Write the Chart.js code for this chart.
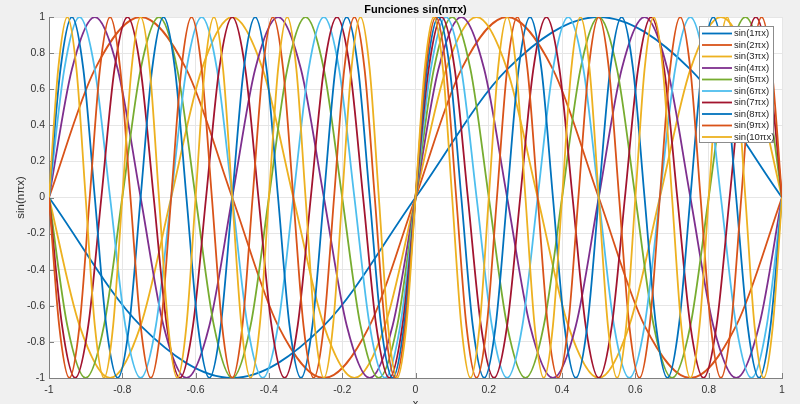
<!DOCTYPE html>
<html>
<head>
<meta charset="utf-8">
<title>Funciones sin(nπx)</title>
<script src="https://cdn.jsdelivr.net/npm/chart.js@4.4.1/dist/chart.umd.min.js"></script>
<style>
    html, body {
        margin: 0;
        padding: 0;
        background: #f0f0f0;
    }
</style>
</head>
<body>
<canvas id="sinChart" width="800" height="404"></canvas>
<script>
// each curve sampled every 1/8 of its period, from x = -1 to x = 1
const seriesLabels = ["sin(1πx)", "sin(2πx)", "sin(3πx)", "sin(4πx)", "sin(5πx)",
                      "sin(6πx)", "sin(7πx)", "sin(8πx)", "sin(9πx)", "sin(10πx)"];

const sin1 = [0, -0.71, -1, -0.71, 0, 0.71, 1, 0.71, 0];
const sin2 = [0, 0.71, 1, 0.71, 0, -0.71, -1, -0.71, 0, 0.71, 1, 0.71, 0, -0.71, -1, -0.71, 0];
const sin3 = [0, -0.71, -1, -0.71, 0, 0.71, 1, 0.71,
              0, -0.71, -1, -0.71, 0, 0.71, 1, 0.71,
              0, -0.71, -1, -0.71, 0, 0.71, 1, 0.71, 0];
const sin4 = [0, 0.71, 1, 0.71, 0, -0.71, -1, -0.71, 0, 0.71, 1, 0.71, 0, -0.71, -1, -0.71,
              0, 0.71, 1, 0.71, 0, -0.71, -1, -0.71, 0, 0.71, 1, 0.71, 0, -0.71, -1, -0.71, 0];
const sin5 = [0, -0.71, -1, -0.71, 0, 0.71, 1, 0.71, 0, -0.71, -1, -0.71, 0, 0.71, 1, 0.71,
              0, -0.71, -1, -0.71, 0, 0.71, 1, 0.71, 0, -0.71, -1, -0.71, 0, 0.71, 1, 0.71,
              0, -0.71, -1, -0.71, 0, 0.71, 1, 0.71, 0];
const sin6 = [0, 0.71, 1, 0.71, 0, -0.71, -1, -0.71, 0, 0.71, 1, 0.71, 0, -0.71, -1, -0.71,
              0, 0.71, 1, 0.71, 0, -0.71, -1, -0.71, 0, 0.71, 1, 0.71, 0, -0.71, -1, -0.71,
              0, 0.71, 1, 0.71, 0, -0.71, -1, -0.71, 0, 0.71, 1, 0.71, 0, -0.71, -1, -0.71, 0];
const sin7 = [0, -0.71, -1, -0.71, 0, 0.71, 1, 0.71, 0, -0.71, -1, -0.71, 0, 0.71, 1, 0.71,
              0, -0.71, -1, -0.71, 0, 0.71, 1, 0.71, 0, -0.71, -1, -0.71, 0, 0.71, 1, 0.71,
              0, -0.71, -1, -0.71, 0, 0.71, 1, 0.71, 0, -0.71, -1, -0.71, 0, 0.71, 1, 0.71,
              0, -0.71, -1, -0.71, 0, 0.71, 1, 0.71, 0];
const sin8 = [0, 0.71, 1, 0.71, 0, -0.71, -1, -0.71, 0, 0.71, 1, 0.71, 0, -0.71, -1, -0.71,
              0, 0.71, 1, 0.71, 0, -0.71, -1, -0.71, 0, 0.71, 1, 0.71, 0, -0.71, -1, -0.71,
              0, 0.71, 1, 0.71, 0, -0.71, -1, -0.71, 0, 0.71, 1, 0.71, 0, -0.71, -1, -0.71,
              0, 0.71, 1, 0.71, 0, -0.71, -1, -0.71, 0, 0.71, 1, 0.71, 0, -0.71, -1, -0.71, 0];
const sin9 = [0, -0.71, -1, -0.71, 0, 0.71, 1, 0.71, 0, -0.71, -1, -0.71, 0, 0.71, 1, 0.71,
              0, -0.71, -1, -0.71, 0, 0.71, 1, 0.71, 0, -0.71, -1, -0.71, 0, 0.71, 1, 0.71,
              0, -0.71, -1, -0.71, 0, 0.71, 1, 0.71, 0, -0.71, -1, -0.71, 0, 0.71, 1, 0.71,
              0, -0.71, -1, -0.71, 0, 0.71, 1, 0.71, 0, -0.71, -1, -0.71, 0, 0.71, 1, 0.71,
              0, -0.71, -1, -0.71, 0, 0.71, 1, 0.71, 0];
const sin10 = [0, 0.71, 1, 0.71, 0, -0.71, -1, -0.71, 0, 0.71, 1, 0.71, 0, -0.71, -1, -0.71,
               0, 0.71, 1, 0.71, 0, -0.71, -1, -0.71, 0, 0.71, 1, 0.71, 0, -0.71, -1, -0.71,
               0, 0.71, 1, 0.71, 0, -0.71, -1, -0.71, 0, 0.71, 1, 0.71, 0, -0.71, -1, -0.71,
               0, 0.71, 1, 0.71, 0, -0.71, -1, -0.71, 0, 0.71, 1, 0.71, 0, -0.71, -1, -0.71,
               0, 0.71, 1, 0.71, 0, -0.71, -1, -0.71, 0, 0.71, 1, 0.71, 0, -0.71, -1, -0.71, 0];

const seriesValues = [sin1, sin2, sin3, sin4, sin5, sin6, sin7, sin8, sin9, sin10];

const xMin = -1;
const xMax = 1;
const yMin = -1;
const yMax = 1;
const tickStep = 0.2;

// matlab default colour order
const lineColors = ["#0072BD", "#D95319", "#EDB120", "#7E2F8E", "#77AC30",
                    "#4DBEEE", "#A2142F", "#0072BD", "#D95319", "#EDB120"];

const fontFamily = '"Liberation Sans", Arial, sans-serif';
const textColor = "#333333";
const axisColor = "#808080";

Chart.defaults.font.family = fontFamily;

function toPoints(values) {
    const last = values.length - 1;
    return values.map((y, i) => ({ x: xMin + (xMax - xMin) * i / last, y: y }));
}

function tickText(value) {
    return String(Math.round(value * 10) / 10);
}

const matlabLook = {
    id: "matlabLook",
    beforeDraw(chart) {
        const { ctx, chartArea: a } = chart;
        ctx.save();
        ctx.fillStyle = "#ffffff";
        ctx.fillRect(a.left, a.top, a.right - a.left, a.bottom - a.top);
        ctx.restore();
    },
    beforeDatasetsDraw(chart) {
        // short tick marks pointing into the axes
        const { ctx, chartArea: a, scales } = chart;
        ctx.save();
        ctx.strokeStyle = axisColor;
        ctx.lineWidth = 1;
        ctx.beginPath();
        scales.x.ticks.forEach(t => {
            const px = Math.round(scales.x.getPixelForValue(t.value)) + 0.5;
            ctx.moveTo(px, a.bottom);
            ctx.lineTo(px, a.bottom - 5);
        });
        scales.y.ticks.forEach(t => {
            const py = Math.round(scales.y.getPixelForValue(t.value)) + 0.5;
            ctx.moveTo(a.left, py);
            ctx.lineTo(a.left + 5, py);
        });
        ctx.stroke();
        ctx.restore();
    },
    afterDraw(chart) {
        const { ctx, chartArea: a } = chart;
        ctx.save();

        // title
        ctx.fillStyle = "#000000";
        ctx.font = "bold 11px " + fontFamily;
        ctx.textAlign = "center";
        ctx.textBaseline = "middle";
        ctx.fillText("Funciones sin(nπx)", (a.left + a.right) / 2, 10);

        // legend box, top right inside the axes
        const lw = 75;
        const lh = 117;
        const lx = a.right - 8 - lw;
        const ly = a.top + 9;
        const rowH = 11.5;
        ctx.fillStyle = "#ffffff";
        ctx.fillRect(lx, ly, lw, lh);
        ctx.strokeStyle = "#8c8c8c";
        ctx.lineWidth = 1;
        ctx.strokeRect(lx + 0.5, ly + 0.5, lw - 1, lh - 1);

        ctx.font = "9.5px " + fontFamily;
        ctx.textAlign = "left";
        chart.data.datasets.forEach((ds, i) => {
            const cy = ly + 7.5 + i * rowH;
            ctx.strokeStyle = ds.borderColor;
            ctx.lineWidth = 1.8;
            ctx.beginPath();
            ctx.moveTo(lx + 3, cy);
            ctx.lineTo(lx + 33, cy);
            ctx.stroke();
            ctx.fillStyle = "#262626";
            ctx.fillText(ds.label, lx + 35, cy);
        });
        ctx.restore();
    }
};

new Chart(document.getElementById("sinChart"), {
    type: "line",
    data: {
        datasets: seriesValues.map((values, i) => ({
            label: seriesLabels[i],
            data: toPoints(values),
            borderColor: lineColors[i],
            backgroundColor: lineColors[i],
            borderWidth: 1.8,
            pointRadius: 0,
            fill: false,
            cubicInterpolationMode: "monotone",
            order: seriesValues.length - i
        }))
    },
    options: {
        responsive: false,
        animation: false,
        layout: {
            padding: { top: 17, right: 18, left: 0, bottom: 0 }
        },
        plugins: {
            legend: { display: false },
            tooltip: { enabled: false }
        },
        scales: {
            x: {
                type: "linear",
                min: xMin,
                max: xMax,
                afterFit: scale => { scale.height = 26; },
                grid: { color: "#e6e6e6", drawTicks: false },
                border: { color: axisColor },
                ticks: {
                    stepSize: tickStep,
                    padding: 6,
                    color: textColor,
                    font: { size: 10.5 },
                    maxRotation: 0,
                    autoSkip: false,
                    callback: tickText
                },
                title: {
                    display: true,
                    text: "x",
                    color: textColor,
                    font: { size: 11 },
                    padding: { top: 0, bottom: -7 }
                }
            },
            y: {
                min: yMin,
                max: yMax,
                afterFit: scale => { scale.width = 49; },
                grid: { color: "#e6e6e6", drawTicks: false },
                border: { color: axisColor },
                ticks: {
                    stepSize: tickStep,
                    padding: 4,
                    color: textColor,
                    font: { size: 10.5 },
                    callback: tickText
                },
                title: {
                    display: true,
                    text: "sin(nπx)",
                    color: textColor,
                    font: { size: 11.5 },
                    padding: { top: 14, bottom: 0 }
                }
            }
        }
    },
    plugins: [matlabLook]
});
</script>
</body>
</html>
